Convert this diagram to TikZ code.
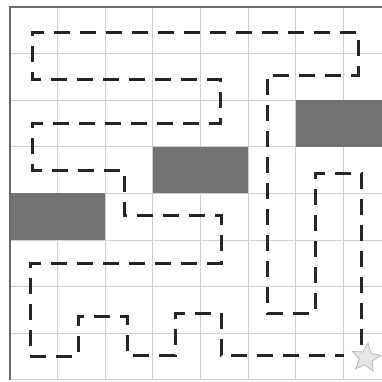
\documentclass[tikz,border=0pt]{standalone}
\usetikzlibrary{shapes.geometric}
\definecolor{gridc}{HTML}{CFCFCF}
\definecolor{borderc}{HTML}{6A6A6A}
\definecolor{blockc}{HTML}{727272}
\definecolor{pathc}{HTML}{262626}
\tikzset{
  gridline/.style={draw=gridc, line width=1pt},
  borderline/.style={draw=borderc, line width=1.6pt},
  block/.style={fill=blockc},
  route/.style={draw=pathc, line width=3pt, dash pattern=on 16pt off 10pt},
  goal/.style={star, star points=5, star point ratio=2.2, minimum size=30pt, inner sep=0pt, fill=gray!20, draw=gray!55, line width=0.8pt, rotate=-8}
}
\begin{document}
\begin{tikzpicture}[x=1pt,y=-1pt]
\useasboundingbox (0,0) rectangle (382,381);
% grid
\foreach \i in {1,...,7} \draw[gridline] ({10+47.6*\i},7) -- ({10+47.6*\i},380);
\foreach \j in {1,...,8} \draw[gridline] (10,{7+46.6*\j}) -- (382,{7+46.6*\j});
% blocks
\fill[block] (295.6,100.2) rectangle (382,146.8);
\fill[block] (152.8,146.8) rectangle (248,193.4);
\fill[block] (10,193.4) rectangle (105.2,240);
\draw[borderline] (10,380) -- (10,7) -- (382,7);
% route
\draw[route] (361,345) -- (361,173) -- (315,173) -- (315,313) -- (267,313) -- (267,75) -- (358,75) -- (358,32) -- (32,32) -- (32,79) -- (220,79) -- (220,123) -- (32,123) -- (32,170) -- (124,170) -- (124,215) -- (221,215) -- (221,263) -- (30,263) -- (30,356) -- (78,356) -- (78,316) -- (127,316) -- (127,355) -- (175,355) -- (175,313) -- (221,313) -- (221,355) -- (344,355);
% goal star
\node[goal] (goal) at (366,358) {};
\end{tikzpicture}
\end{document}
